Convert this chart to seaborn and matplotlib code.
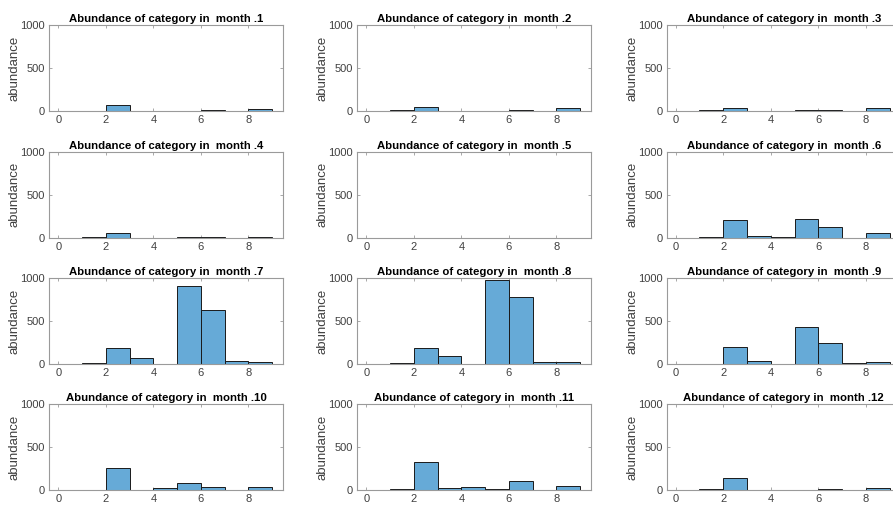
import matplotlib
matplotlib.use("Agg")
import matplotlib.pyplot as plt
import seaborn as sns
import numpy as np

# bin edges 1..9, one value per bin
bin_edges = [1, 2, 3, 4, 5, 6, 7, 8, 9]
bin_centers = [1.5, 2.5, 3.5, 4.5, 5.5, 6.5, 7.5, 8.5]
months = [1, 2, 3, 4, 5, 6, 7, 8, 9, 10, 11, 12]

m1 = [5, 70, 0, 0, 0, 12, 0, 18]
m2 = [15, 50, 0, 0, 0, 10, 0, 30]
m3 = [10, 40, 5, 0, 10, 8, 0, 35]
m4 = [3, 50, 0, 0, 12, 5, 0, 3]
m5 = [0, 0, 0, 0, 0, 0, 0, 0]
m6 = [5, 205, 25, 5, 215, 120, 0, 50]
m7 = [15, 185, 75, 0, 905, 630, 30, 25]
m8 = [10, 185, 90, 5, 980, 775, 25, 25]
m9 = [5, 200, 30, 5, 430, 250, 15, 25]
m10 = [3, 260, 5, 20, 85, 40, 0, 35]
m11 = [10, 325, 20, 30, 10, 100, 0, 45]
m12 = [10, 135, 3, 0, 0, 10, 0, 20]
month_values = [m1, m2, m3, m4, m5, m6, m7, m8, m9, m10, m11, m12]

x_ticks = [0, 2, 4, 6, 8]
y_ticks = [0, 500, 1000]

sns.set_theme(style="white")
plt.rcParams['font.family'] = ['Liberation Sans', 'DejaVu Sans']

W, H = 893, 505
fig = plt.figure(figsize=(W / 100, H / 100), dpi=100)

col_left = [49.3, 357.3, 666.7]
row_bottom = [111, 237.7, 364, 490]
ax_w = 234.0
ax_h = 86.0

bar_color = "#66AAD7"
spine_color = "#9a9a9a"
text_color = "#404040"

for i, (mon, vals) in enumerate(zip(months, month_values)):
    r, c = divmod(i, 3)
    ax = fig.add_axes([col_left[c] / W, 1 - row_bottom[r] / H, ax_w / W, ax_h / H])
    sns.histplot(x=bin_centers, weights=vals, bins=bin_edges, ax=ax,
                 color=bar_color, alpha=1.0, edgecolor="#1a1a1a", linewidth=0.7)
    ax.set_xlim(-0.38, 9.47)
    ax.set_ylim(0, 1000)
    ax.set_xticks(x_ticks)
    ax.set_yticks(y_ticks)
    ax.tick_params(direction="in", length=2.5, width=0.6, colors=spine_color,
                   labelcolor=text_color, labelsize=8, top=True, right=True,
                   bottom=True, left=True, pad=3)
    for s in ax.spines.values():
        s.set_visible(True)
        s.set_color(spine_color)
        s.set_linewidth(0.8)
    ax.set_xlabel("")
    ax.set_ylabel("abundance", fontsize=9.5, color=text_color)
    ax.yaxis.set_label_coords(-0.122, 0.5)
    ax.set_title(f"Abundance of category in  month .{mon}", fontsize=8.2,
                 fontweight="bold", color="#000000", pad=2)

fig.savefig("out.png", dpi=100)
